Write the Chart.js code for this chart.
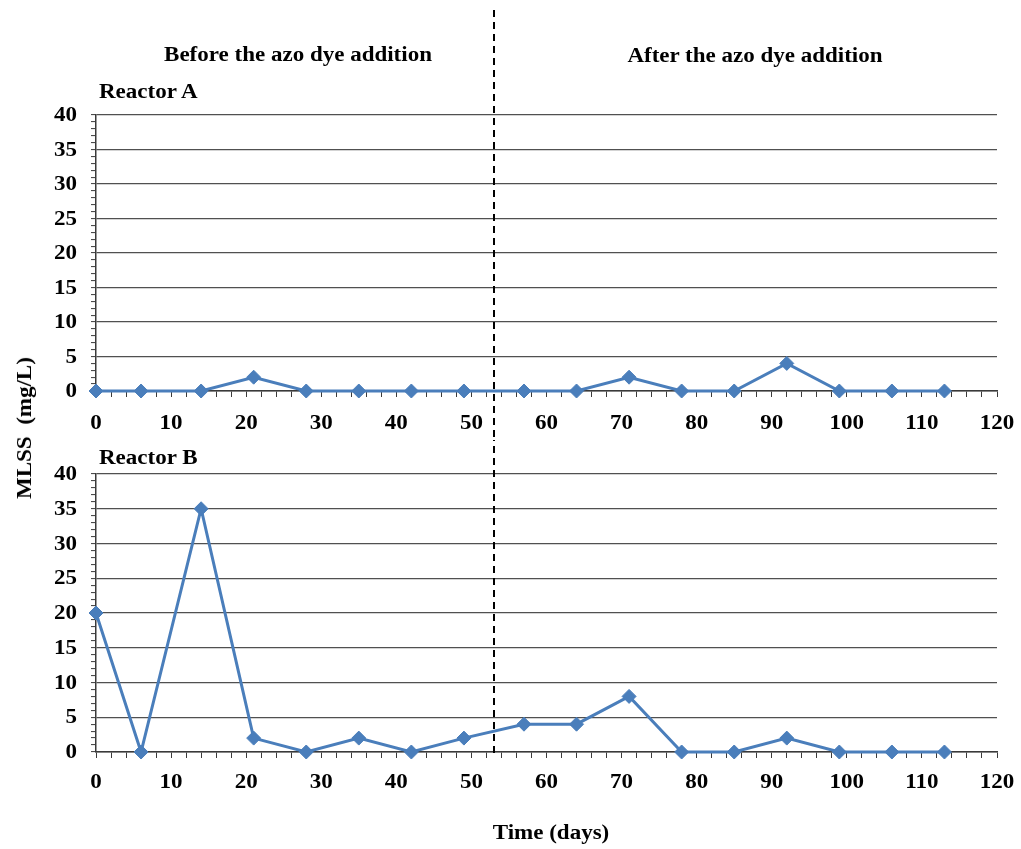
<!DOCTYPE html>
<html>
<head>
<meta charset="utf-8">
<title>MLSS in effluent – Reactors A and B</title>
<script src="https://cdn.jsdelivr.net/npm/chart.js@4/dist/chart.umd.min.js"></script>
<style>
  html, body { margin: 0; padding: 0; background: #fff; }
  #page { position: relative; width: 1021px; height: 849px; overflow: hidden; font-family: "Liberation Serif", "Times New Roman", serif; font-weight: bold; color: #000; }
  canvas { position: absolute; left: 0; }
  #chartA { top: 0; }
  #chartB { top: 440px; }
  .lbl { position: absolute; white-space: pre; font-size: 20px; line-height: 1; }
  .ctr { transform: translateX(-50%) scaleX(1.15); }
  .lft { transform-origin: 0 0; transform: scaleX(1.15); }
  #phaseBefore { left: 298px; top: 44px; }
  #phaseAfter  { left: 755px; top: 45px; }
  #nameA { left: 99px; top: 81px; }
  #nameB { left: 99px; top: 447px; }
  #xTitle { left: 551px; top: 822px; }
  #yTitle { left: 24px; top: 428px; transform: translate(-50%, -50%) rotate(-90deg) scaleX(1.15); }
</style>
</head>
<body>
<div id="page">
  <canvas id="chartA" width="1021" height="440"></canvas>
  <canvas id="chartB" width="1021" height="409"></canvas>
  <div class="lbl ctr" id="phaseBefore">Before the azo dye addition</div>
  <div class="lbl ctr" id="phaseAfter">After the azo dye addition</div>
  <div class="lbl lft" id="nameA">Reactor A</div>
  <div class="lbl lft" id="nameB">Reactor B</div>
  <div class="lbl ctr" id="xTitle">Time (days)</div>
  <div class="lbl" id="yTitle">MLSS  (mg/L)</div>
</div>
<script>
// Sampling days and MLSS measured in each reactor's effluent (mg/L)
const days     = [0, 6, 14, 21, 28, 35, 42, 49, 57, 64, 71, 78, 85, 92, 99, 106, 113];
const reactorA = [0, 0, 0, 2, 0, 0, 0, 0, 0, 0, 2, 0, 0, 4, 0, 0, 0];
const reactorB = [20, 0, 35, 2, 0, 2, 0, 2, 4, 4, 8, 0, 0, 2, 0, 0, 0];

// Day on which the azo dye started being fed
const additionDay = 53;

// Axis ranges
const xRange = { min: 0, max: 120, minorStep: 2, labelStep: 10 };
const yRange = { min: 0, max: 40, minorStep: 1, labelStep: 5 };

const seriesColor = '#4A7EBB';
const axisColor = '#3a3a3a';
const gridColor = '#505050';
const labelFamily = '"Liberation Serif", "Times New Roman", serif';
const labelSize = 20;
const textStretch = 1.15;   // slightly widened lettering

function points(values) {
  return days.map((d, i) => ({ x: d, y: values[i] }));
}

function isLabelled(value, step) {
  return Math.round(value) % step === 0;
}

function drawStretched(ctx, text, px, py, align) {
  ctx.save();
  ctx.translate(px, py);
  ctx.scale(textStretch, 1);
  ctx.textAlign = align;
  ctx.textBaseline = 'middle';
  ctx.fillText(text, 0, 0);
  ctx.restore();
}

// Tick labels, placed from the chart's own scales
const tickLabelPlugin = {
  id: 'tickLabels',
  afterDraw(chart, args, opts) {
    const { ctx, scales } = chart;
    const xs = scales.x, ys = scales.y;
    ctx.save();
    ctx.fillStyle = '#000';
    ctx.font = `bold ${labelSize}px ${labelFamily}`;
    xs.ticks.forEach((t) => {
      if (!isLabelled(t.value, xRange.labelStep)) return;
      drawStretched(ctx, String(Math.round(t.value)), xs.getPixelForValue(t.value), xs.top + opts.xOffset, 'center');
    });
    ys.ticks.forEach((t) => {
      if (!isLabelled(t.value, yRange.labelStep)) return;
      drawStretched(ctx, String(Math.round(t.value)), ys.right - 19, ys.getPixelForValue(t.value) + 1, 'right');
    });
    ctx.restore();
  }
};

// Vertical dashed divider marking the start of dye addition
const dividerPlugin = {
  id: 'divider',
  afterDatasetsDraw(chart, args, opts) {
    const { ctx, scales, chartArea } = chart;
    const x = Math.round(scales.x.getPixelForValue(additionDay));
    const top = opts.fromTop;
    const bottom = opts.toCanvasBottom ? chart.height : chartArea.bottom + opts.extendBelow;
    ctx.save();
    ctx.strokeStyle = '#000';
    ctx.lineWidth = 2;
    ctx.setLineDash([7, 5]);
    ctx.lineDashOffset = opts.dashOffset || 0;
    ctx.beginPath();
    ctx.moveTo(x, top);
    ctx.lineTo(x, bottom);
    ctx.stroke();
    ctx.restore();
  }
};

function makeChart(canvasId, values, layout) {
  return new Chart(document.getElementById(canvasId), {
    type: 'line',
    data: {
      datasets: [{
        data: points(values),
        borderColor: seriesColor,
        backgroundColor: seriesColor,
        borderWidth: 3,
        pointStyle: 'rectRot',
        pointRadius: 7,
        pointHoverRadius: 7,
        pointBorderWidth: 1,
        tension: 0,
        clip: false
      }]
    },
    options: {
      responsive: false,
      animation: false,
      devicePixelRatio: 1,
      layout: { padding: layout.padding },
      plugins: {
        legend: { display: false },
        tooltip: { enabled: false },
        divider: layout.divider,
        tickLabels: { xOffset: layout.xLabelOffset }
      },
      scales: {
        x: {
          type: 'linear',
          min: xRange.min,
          max: xRange.max,
          afterFit(scale) {
            scale.height = layout.xHeight;
            scale.paddingLeft = 0;
            scale.paddingRight = 0;
          },
          border: { display: true, color: axisColor, width: 1.5 },
          grid: {
            drawOnChartArea: false,
            drawTicks: true,
            tickLength: 6,
            tickColor: axisColor,
            tickWidth: 1
          },
          ticks: {
            stepSize: xRange.minorStep,
            autoSkip: false,
            display: false
          }
        },
        y: {
          type: 'linear',
          min: yRange.min,
          max: yRange.max,
          afterFit(scale) {
            scale.width = 96;
            scale.paddingTop = 0;
            scale.paddingBottom = 0;
          },
          border: { display: true, color: axisColor, width: 1.5 },
          grid: {
            drawTicks: true,
            tickLength: 5,
            tickColor: axisColor,
            tickWidth: 1,
            lineWidth: 1.2,
            color: (ctx) => (ctx.tick && isLabelled(ctx.tick.value, yRange.labelStep) ? gridColor : 'rgba(0,0,0,0)')
          },
          ticks: {
            stepSize: yRange.minorStep,
            autoSkip: false,
            display: false
          }
        }
      }
    },
    plugins: [dividerPlugin, tickLabelPlugin]
  });
}

makeChart('chartA', reactorA, {
  padding: { left: 0, right: 24, top: 115, bottom: 0 },
  xHeight: 49,
  xLabelOffset: 33,
  divider: { fromTop: 10, toCanvasBottom: true, extendBelow: 0, dashOffset: 0 }
});

makeChart('chartB', reactorB, {
  padding: { left: 0, right: 24, top: 34, bottom: 0 },
  xHeight: 97,
  xLabelOffset: 31,
  divider: { fromTop: 0, toCanvasBottom: false, extendBelow: 3, dashOffset: 6 }
});
</script>
</body>
</html>
